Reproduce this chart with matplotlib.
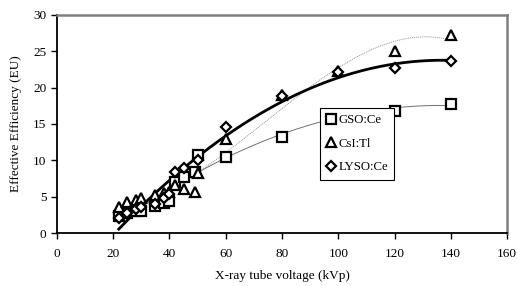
import numpy as np
import matplotlib
matplotlib.use("Agg")
from matplotlib import pyplot as plt

plt.rcParams['font.family'] = ['Liberation Serif', 'DejaVu Serif']

# kVp values and effective efficiency (EU)
gso_kvp = [22, 25, 28, 30, 35, 38, 40, 42, 45, 49, 50, 60, 80, 120, 140]
gso_eu = [2.3, 2.8, 3.0, 3.0, 3.7, 4.2, 4.4, 7.0, 7.7, 8.4, 10.8, 10.5, 13.2, 16.8, 17.8]

csi_kvp = [22, 25, 28, 30, 35, 38, 40, 42, 45, 49, 50, 60, 80, 100, 120, 140]
csi_eu = [3.6, 4.3, 4.6, 4.8, 5.3, 5.5, 5.6, 6.6, 6.1, 5.7, 8.3, 12.9, 19.0, 22.3, 25.0, 27.2]

lyso_kvp = [22, 25, 28, 30, 35, 38, 40, 42, 45, 50, 60, 80, 100, 120, 140]
lyso_eu = [2.1, 2.8, 3.3, 3.6, 4.0, 4.8, 5.4, 8.4, 9.0, 10.1, 14.6, 18.8, 22.1, 22.7, 23.6]

series = [
    ("GSO:Ce", gso_kvp, gso_eu, 's', 2, dict(color='#707070', lw=0.7, ls='-')),
    ("CsI:Tl", csi_kvp, csi_eu, '^', 3, dict(color='#909090', lw=0.7, ls=(0, (1, 1)))),
    ("LYSO:Ce", lyso_kvp, lyso_eu, 'D', 2, dict(color='black', lw=2.0, ls='-')),
]

fig = plt.figure(figsize=(5.17, 2.86), dpi=100)
ax = fig.add_axes([0.110, 0.185, 0.871, 0.763])

# polynomial trendlines fitted to each series
for name, xs, ys, mk, order, style in series:
    coef = np.polyfit(xs, ys, order)
    xf = np.linspace(min(xs), max(xs), 200)
    ax.plot(xf, np.polyval(coef, xf), zorder=2, **style)

for name, xs, ys, mk, order, style in series:
    ms = 5.5 if mk == 'D' else 7
    ax.plot(xs, ys, ls='none', marker=mk, ms=ms, mfc='white', mec='black',
            mew=1.6, label=name, zorder=3)

ax.set_xlim(0, 160)
ax.set_ylim(0, 30)
ax.set_xticks(range(0, 161, 20))
ax.set_yticks(range(0, 31, 5))
ax.tick_params(direction='out', length=4, width=1, labelsize=9.5, colors='black')
ax.tick_params(axis='x', pad=7)

for side in ('left', 'bottom'):
    ax.spines[side].set_color('black')
    ax.spines[side].set_linewidth(1.3)
for side in ('top', 'right'):
    ax.spines[side].set_color('#808080')
    ax.spines[side].set_linewidth(1.8)

ax.set_xlabel("X-ray tube voltage (kVp)", fontsize=9.5, labelpad=7)
ax.set_ylabel("Effective Efficiency (EU)", fontsize=9.5, labelpad=8)

leg = ax.legend(loc='upper left', bbox_to_anchor=(0.585, 0.573), fontsize=9.2,
                frameon=True, fancybox=False, edgecolor='black', framealpha=1,
                handlelength=0.6, handletextpad=0.3, borderpad=0.5,
                labelspacing=0.9, borderaxespad=0)
leg.get_frame().set_linewidth(0.8)

fig.savefig("out.png", dpi=100)
